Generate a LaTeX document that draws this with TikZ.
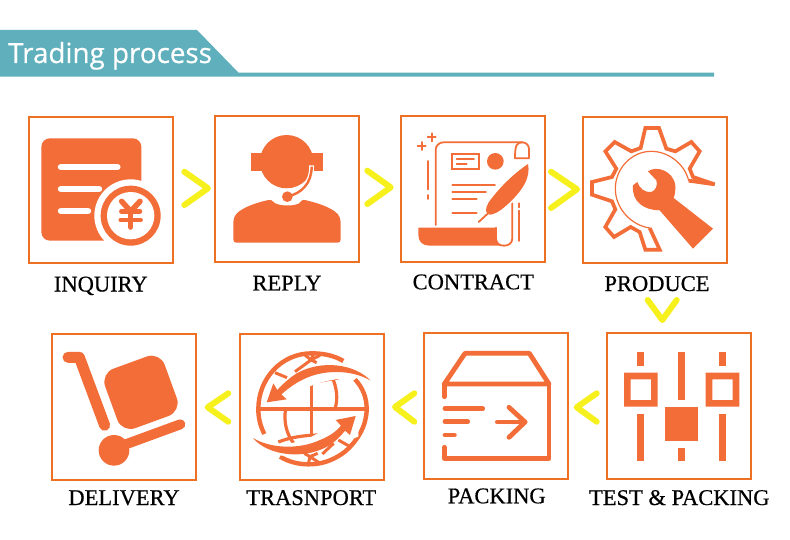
\documentclass[tikz,border=0pt]{standalone}
\usepackage{fontspec}
\setmainfont{Liberation Serif}
\newfontfamily\bannerfont{Open Sans}
\definecolor{teal}{HTML}{5FB0BC}
\definecolor{boxedge}{HTML}{EE7022}
\definecolor{icon}{HTML}{F26D38}
\definecolor{chev}{HTML}{F6F01C}
\tikzset{
  stepbox/.style={draw=boxedge,line width=2pt,minimum width=144.6pt,minimum height=146pt,inner sep=0pt,outer sep=0pt,fill=white},
  steplabel/.style={anchor=base,inner sep=0pt,text=black,font=\fontsize{22.5}{24}\selectfont\addfontfeature{FakeBold=0.5}},
  chevron/.style={draw=chev,line width=6pt,line cap=round,line join=round},
  thinicon/.style={draw=icon,line width=1.8pt,line cap=round,line join=round},
  thickicon/.style={draw=icon,line width=4.8pt,line cap=round,line join=round},
  zoomed/.style={shift={(#1)},scale=0.33333}
}
\begin{document}
\begin{tikzpicture}[x=1pt,y=-1pt]
\useasboundingbox (0,0) rectangle (790,540);
\fill[white] (0,0) rectangle (790,540);
% banner
\fill[teal] (0,30) -- (197,30) -- (238.5,72.7) -- (714,72.7) -- (714,76.7) -- (0,76.7) -- cycle;
\node[anchor=base west,inner sep=0pt,text=white,font=\bannerfont\fontsize{27.8}{30}\selectfont\addfontfeature{FakeBold=0.5}] (title) at (8,63) {Trading process};
% boxes
\node[stepbox] (inquiry) at (100.8,189.7) {};
\node[stepbox] (reply) at (286.8,189) {};
\node[stepbox] (contract) at (472.9,189) {};
\node[stepbox] (produce) at (655,189.8) {};
\node[stepbox] (test) at (679,406.2) {};
\node[stepbox] (packing) at (495.8,406.2) {};
\node[stepbox] (transport) at (312,406.8) {};
\node[stepbox] (delivery) at (123.9,406.8) {};
% labels
\node[steplabel] (l1) at (100.8,291.5) {INQUIRY};
\node[steplabel] (l2) at (287,290.5) {REPLY};
\node[steplabel] (l3) at (473.3,289.3) {CONTRACT};
\node[steplabel] (l4) at (657,291) {PRODUCE};
\node[steplabel] (l5) at (679.3,505) {TEST \& PACKING};
\node[steplabel] (l6) at (496.7,503.3) {PACKING};
\node[steplabel] (l7) at (311.3,505) {TRASNPORT};
\node[steplabel] (l8) at (124,505) {DELIVERY};
% chevrons
\draw[chevron] (184.3,171.7) -- (208,188.3) -- (184.3,205);
\draw[chevron] (367.3,170.7) -- (390.7,187.3) -- (367.3,204);
\draw[chevron] (551,171.7) -- (577,189.3) -- (551,208);
\draw[chevron] (647.7,300) -- (662.3,320) -- (676.7,300);
\draw[chevron] (596.7,393.3) -- (576.7,407.3) -- (596.7,421.7);
\draw[chevron] (414.3,393.3) -- (395,407) -- (414.3,421.7);
\draw[chevron] (228.3,393.3) -- (207.7,407.3) -- (228.3,421.7);
% icon 1: inquiry
\begin{scope}[zoomed={0,20}]
\fill[icon,rounded corners=8.5pt] (124,355) rectangle (424,662);
\fill[white] (392,587) circle (109);
\fill[icon] (392,587) circle (90);
\fill[white] (392,587) circle (71);
\foreach \a/\b/\c in {175/360/441,175/305/507,175/272/573}
  \draw[white,line width=6.5pt,line cap=round] (\a+8,\c) -- (\b-8,\c);
\draw[icon,line width=5.5pt,line cap=round,line join=round] (365,544) -- (392,574) -- (420,544);
\draw[icon,line width=5pt,line cap=round] (392,574) -- (392,622);
\draw[icon,line width=4.5pt,line cap=round] (364,574) -- (420,574);
\draw[icon,line width=4.5pt,line cap=round] (362,600) -- (422,600);
\end{scope}
% icon 2: reply
\begin{scope}[zoomed={0,20}]
\fill[icon,rounded corners=3pt] (700,668) -- (700,600) .. controls (712,568) and (760,550) .. (815,538) .. controls (830,560) and (895,560) .. (905,538) .. controls (960,550) and (1010,568) .. (1022,600) -- (1022,668) -- cycle;
\fill[icon] (753,400) rectangle (969,453);
\fill[icon] (860,425) circle (80);
\draw[white,line width=4.8pt] (935,436) .. controls (935,490) and (905,520) .. (862,530);
\fill[white] (862,530) circle (24);
\draw[icon,line width=2.4pt] (935,440) .. controls (935,490) and (905,520) .. (862,530);
\fill[icon] (862,530) circle (16);
\end{scope}
% icon 3: contract
\begin{scope}[zoomed={390,100}]
\draw[thinicon] (137,375) -- (137,150) arc[start angle=180,end angle=270,radius=23] -- (397,127) arc[start angle=270,end angle=360,radius=20] -- (417,175) -- (375,175);
\draw[thinicon] (397,127) .. controls (380,127) and (375,135) .. (375,175);
\draw[thinicon] (367,310) -- (367,415) .. controls (367,430) and (355,437) .. (342,437) .. controls (328,437) and (318,430) .. (318,415) -- (318,383);
\fill[icon] (85,383) -- (318,383) -- (318,410) .. controls (318,425) and (328,437) .. (342,437) -- (118,437) .. controls (98,437) and (85,425) .. (85,405) -- cycle;
\foreach \x/\y in {125/112,95/138}{
  \draw[thinicon] (\x-12,\y) -- (\x+12,\y);
  \draw[thinicon] (\x,\y-12) -- (\x,\y+12);
}
\draw[thinicon] (115,183) -- (115,268);
\draw[thinicon] (115,285) -- (115,297);
\draw[icon,line width=1.8pt] (187,161) rectangle (267,207);
\draw[thinicon] (200,178) -- (252,178);
\draw[thinicon] (200,192) -- (230,192);
\fill[icon] (316,184) circle (25);
\draw[thinicon] (187,254) -- (315,254);
\draw[thinicon] (187,275) -- (288,275);
\draw[thinicon] (187,298) -- (260,298);
\draw[thinicon] (187,338) -- (260,338);
\fill[icon] (414,192) .. controls (422,230) and (402,270) .. (345,320) .. controls (322,340) and (300,348) .. (292,342) .. controls (282,330) and (292,310) .. (305,295) .. controls (340,250) and (380,215) .. (414,192) -- cycle;
\draw[thinicon] (292,342) -- (266,366);
\draw[thinicon] (388,310) -- (388,322);
\draw[thinicon] (388,332) -- (388,423);
\end{scope}
% icon 4: produce
\begin{scope}[zoomed={588,122}]
\draw[icon,line width=3.7pt,line join=miter] (302,176) -- (380,187) -- (315,165) -- (305,140) -- (335,88) -- (310,60) -- (262,88) -- (235,80) -- (213,18) -- (172,18) -- (158,78) -- (130,88) -- (80,60) -- (52,88) -- (85,140) -- (72,165) -- (12,180) -- (12,218) -- (72,238) -- (82,262) -- (52,315) -- (78,345) -- (128,315) -- (155,330) -- (172,383) -- (215,383) -- (185,318);
\draw[icon,line width=1.2pt] (302,176) .. controls (290,125) and (240,88) .. (190,88) .. controls (130,88) and (82,140) .. (82,200) .. controls (82,260) and (130,310) .. (185,318);
\fill[icon] (375,320) -- (315,380) -- (215,265) .. controls (170,265) and (130,240) .. (135,190) -- (148,180) .. controls (155,200) and (170,212) .. (190,210) .. controls (203,205) and (210,190) .. (205,175) -- (180,148) .. controls (205,130) and (255,145) .. (262,190) .. controls (262,205) and (262,215) .. (257,228) -- cycle;
\end{scope}
% icon 5: test and packing sliders
\begin{scope}[zoomed={400,320}]
\foreach \x/\y/\X/\Y in {712/97/733/138,712/282/733/423,834/97/855/240,834/384/855/423,957/97/978/138,957/282/978/423,794/261/895/362}
  \fill[icon] (\x,\y) rectangle (\X,\Y);
\fill[icon,even odd rule] (672,158) rectangle (773,260) (692,178) rectangle (753,240);
\fill[icon,even odd rule] (917,158) rectangle (1018,260) (937,178) rectangle (998,240);
\end{scope}
% icon 6: packing box
\begin{scope}[zoomed={400,320}]
\draw[thickicon] (133,192) -- (195,100) -- (388,100) -- (447,192) -- cycle;
\draw[thickicon] (133,192) -- (133,230);
\draw[thickicon] (447,192) -- (447,415) -- (133,415) -- (133,382);
\draw[thickicon] (135,266) -- (248,266);
\draw[thickicon] (135,305) -- (203,305);
\draw[thickicon] (135,345) -- (163,345);
\draw[thickicon] (292,306) -- (375,306);
\draw[thickicon] (327,262) -- (375,306) -- (327,352);
\end{scope}
% icon 7: transport globe
\begin{scope}[zoomed={245,340}]
\draw[icon,line width=4.4pt] (295,63) .. controls (265,45) and (230,40) .. (200,40) .. controls (110,40) and (40,115) .. (40,207) .. controls (40,235) and (46,258) .. (58,282);
\draw[icon,line width=4.4pt] (330,118) .. controls (355,145) and (365,175) .. (365,207) .. controls (365,255) and (340,300) .. (300,335) .. controls (260,365) and (225,373) .. (190,373) .. controls (160,373) and (130,365) .. (105,350);
\draw[icon,line width=3.6pt] (40,207) -- (362,207);
\draw[icon,line width=3.6pt] (200,130) -- (200,283);
\draw[icon,line width=3.2pt] (175,134) .. controls (210,125) and (245,120) .. (282,113);
\draw[icon,line width=3.2pt] (100,306) .. controls (135,292) and (180,285) .. (228,285);
\draw[icon,line width=3.2pt] (260,108) .. controls (275,140) and (280,175) .. (270,207);
\draw[icon,line width=3.2pt] (122,207) .. controls (115,245) and (125,285) .. (148,312);
% arrows
\fill[white] (377,122) .. controls (330,62) and (230,48) .. (150,95) -- (60,150) -- (60,195) -- (130,185) .. controls (150,135) and (320,95) .. cycle;
\fill[white] (20,292) .. controls (70,360) and (190,372) .. (270,315) -- (340,290) -- (340,222) -- (265,235) .. controls (220,310) and (75,335) .. cycle;
\fill[icon] (377,122) .. controls (330,72) and (230,58) .. (155,100) .. controls (135,113) and (115,130) .. (97,150) -- (85,130) -- (65,187) -- (125,178) -- (109,163) .. controls (130,145) and (150,130) .. (175,118) .. controls (235,88) and (320,88) .. cycle;
\fill[icon] (24,294) .. controls (70,350) and (190,362) .. (262,310) .. controls (277,298) and (290,285) .. (300,272) -- (315,285) -- (332,228) -- (272,240) -- (288,257) .. controls (270,278) and (250,290) .. (225,300) .. controls (160,330) and (75,325) .. cycle;
% spokes
\foreach \xa/\ya/\xb/\yb in {90/98/126/113,150/95/198/60,198/60/205/42,198/60/180/45,198/60/225/46,198/60/215/68,280/300/312/318,232/342/266/310,195/350/178/340,195/350/190/372,195/350/218/340,195/350/222/368}
  \draw[icon,line width=3pt] (\xa,\ya) -- (\xb,\yb);
\end{scope}
% icon 8: delivery cart
\begin{scope}[zoomed={30,320}]
\draw[icon,line width=11pt,line cap=round,line join=round] (114,112) -- (148,112) -- (224,316);
\fill[icon,rounded corners=14pt,rotate around={20:(333,217)}] (238,122) rectangle (428,312);
\fill[icon] (252,391) circle (46);
\draw[icon,line width=10pt,line cap=round] (290,372) -- (451,313);
\end{scope}
\end{tikzpicture}
\end{document}
